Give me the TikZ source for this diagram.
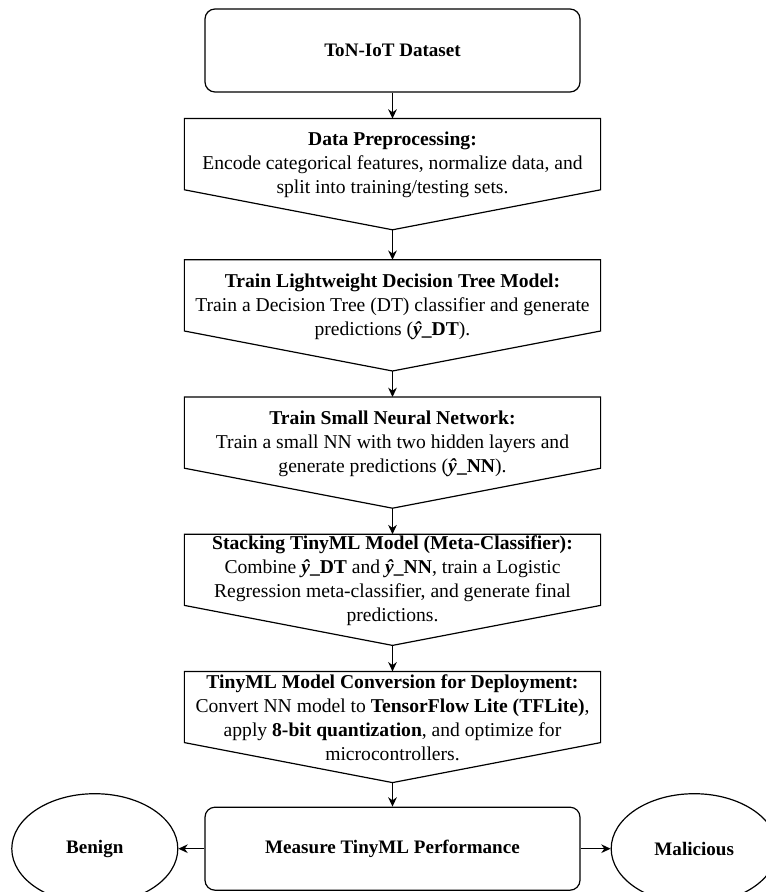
\documentclass[tikz,border=0pt]{standalone}
\usepackage{fontspec}
\setmainfont{Liberation Serif}
\usepackage{tikz}
\usetikzlibrary{arrows.meta,positioning,shapes.geometric}

\begin{document}
\begin{tikzpicture}[
    >={Stealth[length=7pt,width=6.5pt]},
    font=\fontsize{14.7}{18}\selectfont,
    line width=0.9pt,
    endbox/.style={draw, rounded corners=7.5pt, minimum width=281.25pt,
                   minimum height=62.25pt, font=\fontsize{14.3}{18}\selectfont\bfseries},
    vstep/.style={minimum width=311.25pt, minimum height=82.5pt, inner sep=0pt},
    steptext/.style={align=center, inner sep=0pt},
    verdict/.style={draw, ellipse, minimum width=124.5pt, minimum height=82.5pt,
                    inner sep=0pt, font=\fontsize{14.3}{18}\selectfont\bfseries},
  ]
    \useasboundingbox (-294.375pt,37.875pt) rectangle (280.125pt,-631.125pt);

    % --- dataset and the chain of steps ---
    \node[endbox] (data) at (0,0) {ToN-IoT Dataset};
    \node[vstep, below=19.5pt of data] (prep) {};
    \node[vstep, below=22.5pt of prep] (dt) {};
    \node[vstep, below=19.5pt of dt] (nn) {};
    \node[vstep, below=19.5pt of nn] (stack) {};
    \node[vstep, below=19.5pt of stack] (conv) {};
    \node[endbox, below=18pt of conv] (perf) {Measure TinyML Performance};

    % off-page outlines (rectangle with a V bottom)
    \foreach \n in {prep,dt,nn,stack,conv}
      \draw (\n.north west) -- (\n.north east) -- ([yshift=30pt]\n.south east)
        -- (\n.south) -- ([yshift=30pt]\n.south west) -- cycle;

    % --- step texts ---
    \node[steptext] (prep-t) at ([yshift=6.75pt]prep.center)
      {\textbf{Data Preprocessing:}\\
       Encode categorical features, normalize data, and\\
       split into training/testing sets.};
    \node[steptext] (dt-t) at ([yshift=6.75pt]dt.center)
      {\textbf{Train Lightweight Decision Tree Model:}\\
       Train a Decision Tree (DT) classifier and generate\\
       predictions (\textbf{\textit{ŷ}\_DT}).};
    \node[steptext] (nn-t) at ([yshift=6.75pt]nn.center)
      {\textbf{Train Small Neural Network:}\\
       Train a small NN with two hidden layers and\\
       generate predictions (\textbf{\textit{ŷ}\_NN}).};
    \node[steptext] (stack-t) at ([yshift=6.75pt]stack.center)
      {\textbf{Stacking TinyML Model (Meta-Classifier):}\\
       Combine \textbf{\textit{ŷ}\_DT} and \textbf{\textit{ŷ}\_NN}, train a Logistic\\
       Regression meta-classifier, and generate final\\
       predictions.};
    \node[steptext] (conv-t) at ([yshift=6.75pt]conv.center)
      {\textbf{TinyML Model Conversion for Deployment:}\\
       Convert NN model to \textbf{TensorFlow Lite (TFLite)},\\
       apply \textbf{8-bit quantization}, and optimize for\\
       microcontrollers.};

    % --- outcomes ---
    \node[verdict, left=19.5pt of perf] (benign) {Benign};
    \node[verdict, right=22.5pt of perf] (malicious) {Malicious};

    % --- connectors ---
    \draw[->] (data) -- (prep);
    \draw[->] (prep.south) -- (dt);
    \draw[->] (dt.south) -- (nn);
    \draw[->] (nn.south) -- (stack);
    \draw[->] (stack.south) -- (conv);
    \draw[->] (conv.south) -- (perf);
    \draw[->] (perf) -- (benign);
    \draw[->] (perf) -- (malicious);
  \end{tikzpicture}
\end{document}
